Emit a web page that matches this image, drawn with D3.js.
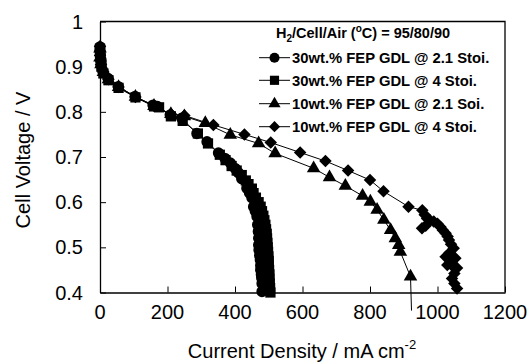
<!DOCTYPE html>
<html>
<head>
<meta charset="utf-8">
<script src="https://cdn.jsdelivr.net/npm/d3@7"></script>
<style>
  body { margin: 0; background: #fff; }
  svg { display: block; font-family: "Liberation Sans", Arial, sans-serif; }
</style>
</head>
<body>
<svg width="529" height="363"></svg>
<script>
// Current density (mA/cm2), cell voltage (V).
var fep30Stoi21 = [[0,0.944],[0,0.935],[1,0.926],[3,0.914],[3,0.904],[9,0.889],[24,0.874],[54,0.856],[104,0.834],
  [157,0.815],[170,0.812],[208,0.793],[242,0.786],[287,0.752],[317,0.734],[351,0.709],[370,0.697],[386,0.687],
  [400,0.675],[410,0.665],[420,0.652],[435,0.631],[443,0.62],[450,0.61],[455,0.59],[460,0.58],[465,0.568],
  [467,0.55],[469,0.535],[470,0.52],[470,0.505],[471,0.494],[473,0.482],[475,0.472],[476,0.46],[476,0.45],
  [478,0.44],[479,0.432],[480,0.42],[480,0.402]];
var fep30Stoi4 = [[0,0.94],[0,0.93],[1,0.92],[3,0.91],[4,0.9],[10,0.885],[25,0.87],[55,0.853],[105,0.832],
  [160,0.812],[175,0.81],[210,0.79],[245,0.78],[290,0.752],[320,0.73],[355,0.705],[372,0.693],[390,0.68],
  [405,0.67],[420,0.66],[432,0.648],[440,0.64],[450,0.63],[455,0.62],[462,0.61],[470,0.6],[476,0.59],[480,0.58],
  [484,0.57],[487,0.56],[490,0.55],[492,0.54],[494,0.53],[495,0.52],[496,0.51],[497,0.5],[498,0.49],[499,0.48],
  [500,0.47],[500,0.46],[501,0.45],[502,0.44],[502,0.43],[503,0.42],[504,0.41],[505,0.4]];
var fep10Stoi21 = [[0,0.94],[0,0.92],[3,0.905],[10,0.888],[25,0.872],[55,0.855],[105,0.833],[160,0.813],[210,0.795],
  [250,0.79],[312,0.775],[386,0.749],[470,0.73],[519,0.708],[633,0.675],[680,0.655],[727,0.636],[778,0.614],
  [801,0.601],[821,0.583],[841,0.561],[861,0.538],[875,0.52],[885,0.505],[890,0.49],[920,0.435],[923,0.36]];
var fep10Stoi4 = [[0,0.945],[0,0.925],[3,0.905],[10,0.888],[25,0.872],[55,0.855],[105,0.833],[160,0.813],[210,0.795],
  [250,0.792],[336,0.771],[428,0.75],[506,0.732],[593,0.71],[668,0.691],[735,0.67],[800,0.649],[840,0.624],
  [914,0.59],[955,0.582],[962,0.572],[969,0.564],[978,0.56],[954,0.542],[965,0.548],[989,0.557],[1000,0.552],
  [1009,0.545],[1016,0.538],[1024,0.531],[1030,0.524],[1034,0.516],[1040,0.507],[1048,0.498],[1036,0.488],
  [1024,0.479],[1040,0.478],[1053,0.476],[1042,0.468],[1029,0.461],[1045,0.458],[1058,0.454],[1050,0.442],
  [1043,0.431],[1050,0.42],[1058,0.409]];

var seriesNames = ["30wt.% FEP GDL @ 2.1 Stoi.", "30wt.% FEP GDL @ 4 Stoi.",
                   "10wt.% FEP GDL @ 2.1 Soi.", "10wt.% FEP GDL @ 4 Stoi."];
var xTicks = [0, 200, 400, 600, 800, 1000, 1200];
var yTicks = [0.4, 0.5, 0.6, 0.7, 0.8, 0.9, 1];

var series = [
  {name: seriesNames[0], data: fep30Stoi21, shape: "circle"},
  {name: seriesNames[1], data: fep30Stoi4, shape: "square"},
  {name: seriesNames[2], data: fep10Stoi21, shape: "triangle"},
  {name: seriesNames[3], data: fep10Stoi4, shape: "diamond"}
];

var svg = d3.select("svg");
var plotLeft = 100, plotRight = 505, plotTop = 21.5, plotBottom = 292.5;

var x = d3.scaleLinear().domain([0, 1200]).range([plotLeft, plotRight]);
var y = d3.scaleLinear().domain([0.4, 1]).range([plotBottom, plotTop]);

// Marker paths
function markerPath(shape, small) {
  var k = small ? 0.8 : 1;
  if (shape == "circle") return d3.symbol().type(d3.symbolCircle).size(100 * k)();
  if (shape == "square") return d3.symbol().type(d3.symbolSquare).size(105 * k)();
  if (shape == "triangle") return d3.symbol().type(d3.symbolTriangle).size(80 * k)();
  return d3.symbol().type(d3.symbolSquare).size(78 * k)();
}
function markerTransform(shape, px, py) {
  return "translate(" + px + "," + py + ")" + (shape == "diamond" ? " rotate(45)" : "");
}

// Frame (top and right)
svg.append("path")
  .attr("d", "M" + plotLeft + "," + plotTop + "H" + plotRight + "V" + plotBottom)
  .attr("fill", "none").attr("stroke", "#000").attr("stroke-width", 1.3);

// Axes, ticks pointing inward
var xAxis = svg.append("g").attr("transform", "translate(0," + plotBottom + ")")
  .call(d3.axisTop(x).tickValues(xTicks).tickSize(6).tickSizeOuter(0).tickFormat(""));
var yAxis = svg.append("g").attr("transform", "translate(" + plotLeft + ",0)")
  .call(d3.axisRight(y).tickValues(yTicks).tickSize(6).tickSizeOuter(0).tickFormat(""));
[xAxis, yAxis].forEach(function(a) {
  a.select(".domain").attr("stroke", "#000").attr("stroke-width", 1.3);
  a.selectAll(".tick line").attr("stroke", "#000").attr("stroke-width", 1);
});

// Tick labels
svg.append("g").selectAll("text").data(xTicks).enter().append("text")
  .attr("x", function(d) { return x(d); })
  .attr("y", 318.5)
  .attr("text-anchor", "middle")
  .attr("font-size", 20)
  .text(function(d) { return d; });
svg.append("g").selectAll("text").data(yTicks).enter().append("text")
  .attr("x", 83)
  .attr("y", function(d) { return y(d) + 7; })
  .attr("text-anchor", "end")
  .attr("font-size", 20)
  .text(function(d) { return d; });

// Axis titles
var xt = svg.append("text").attr("x", 302).attr("y", 357.5)
  .attr("text-anchor", "middle").attr("font-size", 20);
xt.append("tspan").text("Current Density / mA cm");
xt.append("tspan").attr("dy", -9).attr("font-size", 13).text("-2");

svg.append("text")
  .attr("transform", "translate(30,160) rotate(-90)")
  .attr("text-anchor", "middle").attr("font-size", 20)
  .text("Cell Voltage / V");

// Series lines and markers
var line = d3.line().x(function(d) { return x(d[0]); }).y(function(d) { return y(d[1]); });
series.forEach(function(s) {
  svg.append("path").datum(s.data)
    .attr("d", line)
    .attr("fill", "none").attr("stroke", "#000").attr("stroke-width", 1);
});
series.forEach(function(s) {
  svg.append("g").selectAll("path")
    .data(s.data.filter(function(d) { return d[1] >= 0.4; }))
    .enter().append("path")
    .attr("d", markerPath(s.shape))
    .attr("transform", function(d) { return markerTransform(s.shape, x(d[0]), y(d[1])); })
    .attr("fill", "#000");
});

// Legend
var legend = svg.append("g").attr("font-weight", "bold");
var title = legend.append("text").attr("x", 276).attr("y", 37.5).attr("font-size", 14.5);
title.append("tspan").text("H");
title.append("tspan").attr("dy", 4).attr("font-size", 10).text("2");
title.append("tspan").attr("dy", -4).text("/Cell/Air (");
title.append("tspan").attr("dy", -6).attr("font-size", 10).text("o");
title.append("tspan").attr("dy", 6).text("C) = 95/80/90");

var rowY = [57.7, 80.3, 103.7, 126.7];
series.forEach(function(s, i) {
  var g = legend.append("g");
  g.append("line").attr("x1", 259).attr("x2", 290).attr("y1", rowY[i]).attr("y2", rowY[i])
    .attr("stroke", "#000").attr("stroke-width", 1);
  g.append("path").attr("d", markerPath(s.shape, true))
    .attr("transform", markerTransform(s.shape, 274.5, rowY[i]))
    .attr("fill", "#000");
  g.append("text").attr("x", 292).attr("y", rowY[i] + 5.3)
    .attr("font-size", 14.8).text(s.name);
});
</script>
</body>
</html>
